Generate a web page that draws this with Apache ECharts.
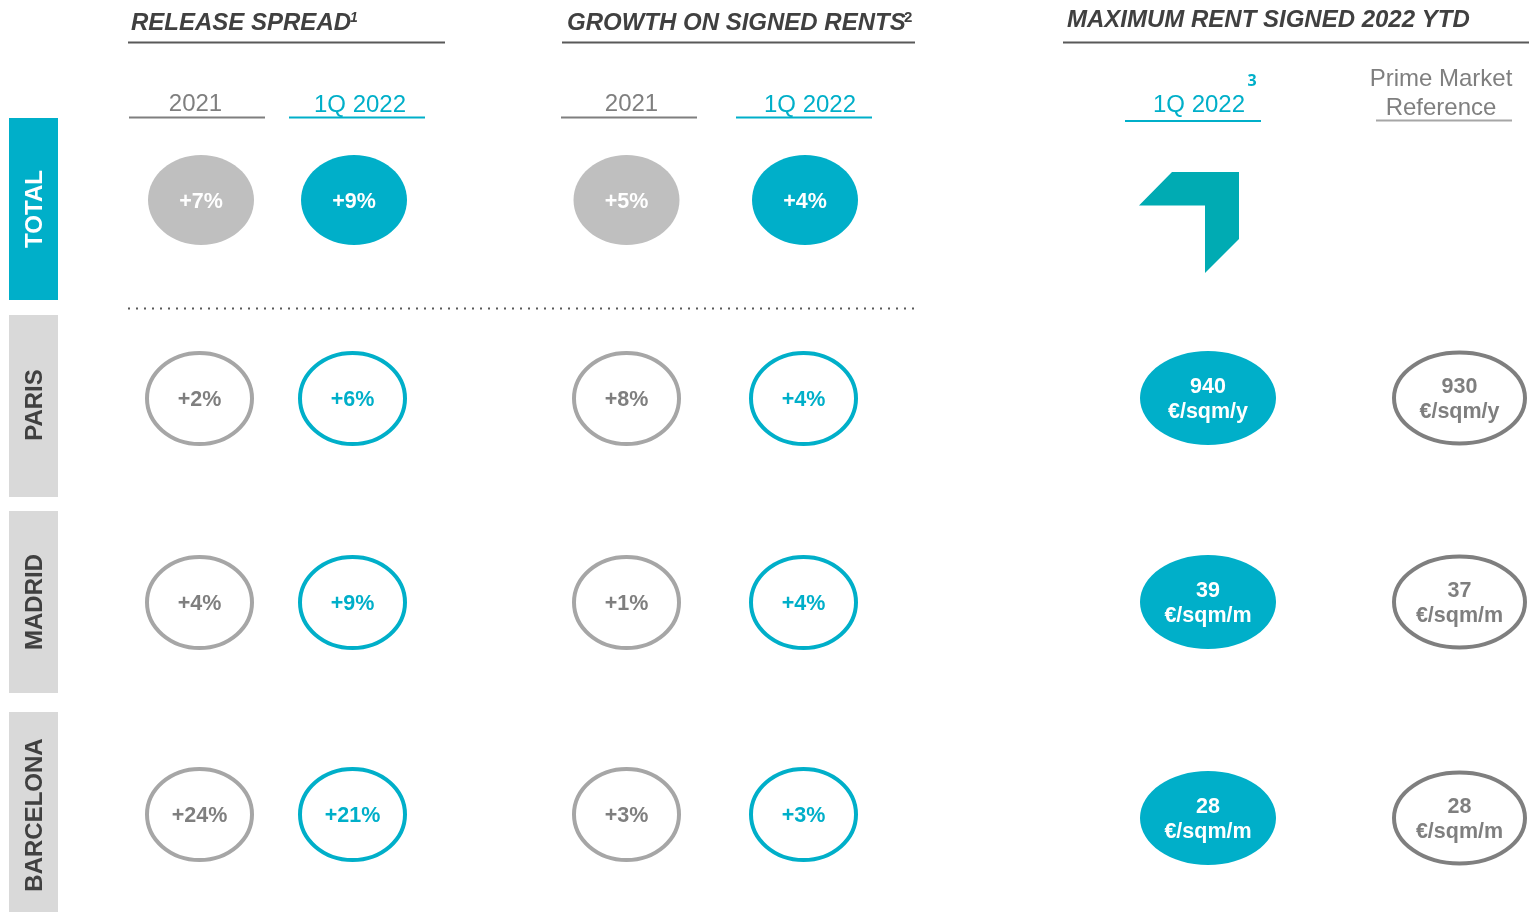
<!DOCTYPE html>
<html>
<head>
<meta charset="utf-8">
<title>Release spread and rents</title>
<script src="https://cdn.jsdelivr.net/npm/echarts@6/dist/echarts.min.js"></script>
<style>
  html, body { margin: 0; padding: 0; background: #fff; }
  #chart { width: 1529px; height: 912px; }
</style>
</head>
<body>
<div id="chart"></div>
<script>
const rows = ['TOTAL', 'PARIS', 'MADRID', 'BARCELONA']
const periods = ['2021', '1Q 2022']
const rentColumns = ['1Q 2022', 'Prime Market Reference']

const releaseSpread2021 = ['+7%', '+2%', '+4%', '+24%']
const releaseSpread1Q = ['+9%', '+6%', '+9%', '+21%']
const growth2021 = ['+5%', '+8%', '+1%', '+3%']
const growth1Q = ['+4%', '+4%', '+4%', '+3%']
const maxRent1Q = [null, '940', '39', '28']
const primeRent = [null, '930', '37', '28']
const rentUnits = [null, '€/sqm/y', '€/sqm/m', '€/sqm/m']

const TEAL = '#00afc9'
const GREY = '#a6a6a6'
const DARK_GREY = '#7f7f7f'
const TITLE = '#404040'
const FONT = '"Liberation Sans", Arial, sans-serif'

// layout per block: centres of the two columns per row, and the row centres
const blocks = [
  { names: periods, cols: [releaseSpread2021, releaseSpread1Q], x: [[201, 354], [199.5, 352.5]], y: [200, 398.5, 602.5, 814.5], rx: 53, ry: 45, lineRx: 52.5, lineRy: 45.5 },
  { names: periods, cols: [growth2021, growth1Q], x: [[626.5, 805], [626.5, 803.5]], y: [200, 398.5, 602.5, 814.5], rx: 53, ry: 45, lineRx: 52.5, lineRy: 45.5 },
  { names: rentColumns, cols: [maxRent1Q, primeRent], x: [[1208, 1459.5], [1208, 1459.5]], y: [200, 398, 602, 818], rx: 68, ry: 47, lineRx: 65.5, lineRy: 45.5, units: rentUnits }
]

function cellStyle(blockIndex, colIndex, rowIndex) {
  const isRent = blockIndex === 2
  const first = colIndex === 0
  if (isRent) {
    return first
      ? { fill: TEAL, stroke: null, text: '#fff' }
      : { fill: '#fff', stroke: DARK_GREY, text: DARK_GREY }
  }
  if (rowIndex === 0) {
    return { fill: first ? '#bfbfbf' : TEAL, stroke: null, text: '#fff' }
  }
  return first
    ? { fill: '#fff', stroke: GREY, text: DARK_GREY }
    : { fill: '#fff', stroke: TEAL, text: TEAL }
}

const grids = []
const xAxes = []
const yAxes = []
const series = []

blocks.forEach((block, b) => {
  rows.forEach((row, r) => {
    const xs = block.x[r === 0 ? 0 : 1]
    const band = xs[1] - xs[0]
    // the last band runs past the page edge, so no clamping to the canvas
    grids.push({ left: xs[0] - band / 2, width: band * 2, top: block.y[r] - 50, height: 100, outerBoundsMode: 'none' })
    const idx = grids.length - 1
    xAxes.push({ type: 'category', gridIndex: idx, data: block.names, show: false })
    yAxes.push({ type: 'category', gridIndex: idx, data: [row], show: false })

    const data = []
    block.cols.forEach((col, c) => {
      if (col[r] !== null) {
        const label = block.units ? col[r] + '\n' + block.units[r] : col[r]
        data.push({ value: [c, 0], label: label })
      }
    })

    series.push({
      type: 'custom',
      xAxisIndex: idx,
      yAxisIndex: idx,
      silent: true,
      clip: false,
      data: data,
      renderItem: function (params, api) {
        const c = api.value(0)
        const center = api.coord([c, 0])
        const style = cellStyle(b, c, r)
        const outlined = !!style.stroke
        return {
          type: 'group',
          children: [
            {
              type: 'ellipse',
              shape: {
                cx: center[0],
                cy: center[1],
                rx: outlined ? block.lineRx : block.rx,
                ry: outlined ? block.lineRy : block.ry
              },
              style: { fill: style.fill, stroke: style.stroke, lineWidth: outlined ? 4 : 0 }
            },
            {
              type: 'text',
              style: {
                x: center[0],
                y: center[1] + 2,
                text: data[params.dataIndex].label,
                fill: style.text,
                font: 'bold 21.5px ' + FONT,
                lineHeight: 25,
                align: 'center',
                verticalAlign: 'middle'
              }
            }
          ]
        }
      }
    })
  })
})

function textEl(x, y, text, fill, font, align) {
  return {
    type: 'text',
    x: x,
    y: y,
    style: { text: text, fill: fill, font: font, align: align || 'center', verticalAlign: 'middle' }
  }
}

function lineEl(x1, x2, y, stroke, width, dash) {
  return {
    type: 'line',
    shape: { x1: x1, y1: y, x2: x2, y2: y },
    style: { stroke: stroke, lineWidth: width, lineDash: dash || null }
  }
}

function rowBox(top, height, color, label, labelColor, labelY) {
  return [
    { type: 'rect', shape: { x: 9, y: top, width: 49, height: height }, style: { fill: color } },
    {
      type: 'text',
      x: 35,
      y: labelY,
      rotation: Math.PI / 2,
      style: { text: label, fill: labelColor, font: 'bold 24px ' + FONT, align: 'center', verticalAlign: 'middle' }
    }
  ]
}

const titleFont = 'italic bold 24px ' + FONT
const headFont = '24px ' + FONT

const decor = [
  // section titles
  textEl(131, 23, 'RELEASE SPREAD', TITLE, titleFont, 'left'),
  textEl(350, 18, '1', TITLE, 'italic bold 14px ' + FONT, 'left'),
  lineEl(128, 445, 42.5, '#595959', 2),
  textEl(567, 23, 'GROWTH ON SIGNED RENTS', TITLE, titleFont, 'left'),
  textEl(904, 18, '2', TITLE, 'bold 15px ' + FONT, 'left'),
  lineEl(562, 915, 42.5, '#595959', 2),
  textEl(1067, 20, 'MAXIMUM RENT SIGNED 2022 YTD', TITLE, titleFont, 'left'),
  lineEl(1063, 1529, 42.5, '#595959', 2),

  // column heads
  textEl(195.5, 104, periods[0], DARK_GREY, headFont),
  lineEl(129, 265, 117.5, DARK_GREY, 2),
  textEl(360, 105, periods[1], TEAL, headFont),
  lineEl(289, 425, 117.5, TEAL, 2),
  textEl(631.5, 104, periods[0], DARK_GREY, headFont),
  lineEl(561, 697, 117.5, DARK_GREY, 2),
  textEl(810, 105, periods[1], TEAL, headFont),
  lineEl(736, 872, 117.5, TEAL, 2),
  textEl(1199, 105, rentColumns[0], TEAL, headFont),
  textEl(1252, 81, '3', TEAL, 'bold 16px "Open Sans", ' + FONT),
  lineEl(1125, 1261, 121, TEAL, 2),
  textEl(1441, 79, 'Prime Market', DARK_GREY, headFont),
  textEl(1441, 108, 'Reference', DARK_GREY, headFont),
  lineEl(1376, 1512, 120.5, GREY, 2),

  // separator under the total row
  lineEl(128, 916, 308.5, '#595959', 2, [2, 6]),

  // total row arrow
  {
    type: 'polygon',
    shape: { points: [[1139, 205.5], [1172, 172], [1239, 172], [1239, 239], [1205, 273], [1205, 205.5]] },
    style: { fill: '#00abb3' }
  }
].concat(
  rowBox(118, 182, TEAL, rows[0], '#fff', 209),
  rowBox(315, 182, '#d9d9d9', rows[1], TITLE, 405),
  rowBox(511, 182, '#d9d9d9', rows[2], TITLE, 602),
  rowBox(712, 200, '#d9d9d9', rows[3], TITLE, 815)
)

const chart = echarts.init(document.getElementById('chart'))
chart.setOption({
  animation: false,
  backgroundColor: '#fff',
  grid: grids,
  xAxis: xAxes,
  yAxis: yAxes,
  series: series,
  graphic: { elements: decor }
})
</script>
</body>
</html>
